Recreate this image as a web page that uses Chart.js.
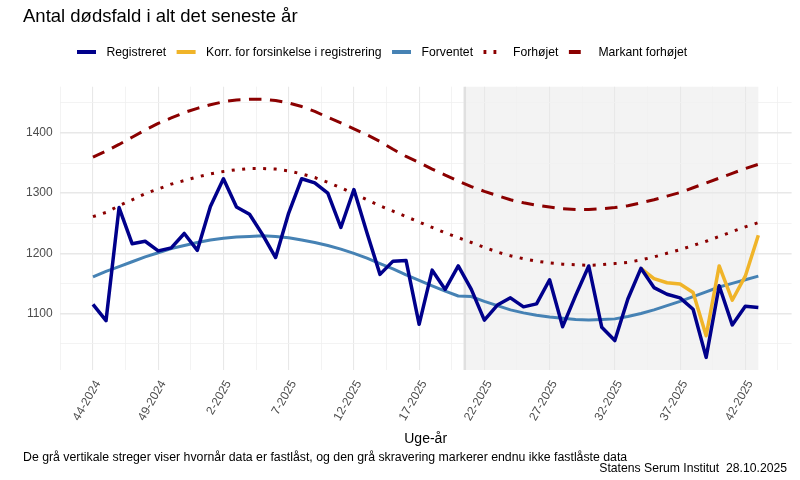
<!DOCTYPE html>
<html>
<head>
<meta charset="utf-8">
<script src="https://cdn.jsdelivr.net/npm/chart.js@4.4.1/dist/chart.umd.min.js"></script>
<style>
  html, body { margin: 0; padding: 0; background: #ffffff; }
  #wrap { width: 800px; height: 480px; position: relative; }
</style>
</head>
<body>
<div id="wrap"><canvas id="c"></canvas></div>
<script>
// ---------- DATA ----------
const weekLabels = [
  "44-2024","45-2024","46-2024","47-2024","48-2024","49-2024","50-2024","51-2024","52-2024",
  "1-2025","2-2025","3-2025","4-2025","5-2025","6-2025","7-2025","8-2025","9-2025","10-2025",
  "11-2025","12-2025","13-2025","14-2025","15-2025","16-2025","17-2025","18-2025","19-2025",
  "20-2025","21-2025","22-2025","23-2025","24-2025","25-2025","26-2025","27-2025","28-2025",
  "29-2025","30-2025","31-2025","32-2025","33-2025","34-2025","35-2025","36-2025","37-2025",
  "38-2025","39-2025","40-2025","41-2025","42-2025","43-2025"
];
const registreret = [1115,1088,1276,1216,1220,1204,1209,1233,1205,1278,1324,1277,1265,1231,1193,1267,
  1324,1317,1300,1243,1306,1234,1165,1187,1188,1082,1172,1140,1179,1140,1089,1114,1126,1111,1116,1156,
  1078,1130,1179,1077,1055,1124,1175,1143,1132,1126,1107,1027,1146,1081,1112,1110];
const korrigeret = [null,null,null,null,null,null,null,null,null,null,null,null,null,null,null,null,
  null,null,null,null,null,null,null,null,null,null,null,null,null,null,null,null,null,null,null,null,
  null,null,null,null,null,null,1175,1158,1151,1149,1135,1063,1179,1122,1162,1230];
const forventet = [1161,1170,1178,1186,1194,1201,1208,1213,1218,1222,1225,1227,1228,1229,1228,1226,
  1222,1218,1213,1207,1200,1192,1183,1174,1164,1155,1146,1137,1129,1128,1120,1113,1106,1101,1097,1094,
  1092,1090,1089,1090,1091,1095,1100,1106,1113,1120,1128,1136,1144,1150,1156,1162];
const forhoejet = [1261,1268,1279,1289,1299,1307,1315,1321,1327,1332,1336,1339,1341,1341,1340,1337,
  1332,1326,1318,1309,1299,1289,1279,1270,1261,1252,1243,1234,1226,1218,1210,1202,1196,1191,1187,1184,
  1182,1181,1180,1181,1183,1185,1189,1194,1200,1206,1213,1220,1228,1236,1244,1251];
const markant = [1360,1370,1381,1393,1405,1416,1425,1434,1441,1447,1452,1455,1456,1456,1454,1450,
  1444,1436,1426,1417,1407,1397,1386,1373,1361,1351,1340,1330,1320,1311,1303,1296,1289,1284,1280,1277,
  1274,1273,1273,1274,1276,1279,1284,1289,1295,1301,1309,1317,1325,1333,1341,1348];
const seriesNames = ["Registreret","Korr. for forsinkelse i registrering","Forventet","Forhøjet","Markant forhøjet"];
// data locked up to between week 20-2025 and 21-2025 (index 28.5); grey shade covers not-yet-locked data
const lockIndex = 28.5;
const lastIndex = registreret.length - 1;

// ---------- STYLE ----------
const FONT = "'Liberation Sans', Arial, sans-serif";
const colNavy = "#00008b", colGold = "#f0b429", colSteel = "#4682b4", colRed = "#8b0000";
const gridMajor = "#e8e8e8", gridMinor = "#f0f0f0";

const toPts = arr => arr.map((v, i) => ({x: i, y: v}));

const datasets = [
  {label: seriesNames[0], data: toPts(registreret), borderColor: colNavy, borderWidth: 3.5, order: 0},
  {label: seriesNames[1], data: toPts(korrigeret), borderColor: colGold, borderWidth: 3.5, order: 1},
  {label: seriesNames[2], data: toPts(forventet), borderColor: colSteel, borderWidth: 3, order: 2},
  {label: seriesNames[3], data: toPts(forhoejet), borderColor: colRed, borderWidth: 3, borderDash: [3, 7.5], order: 3},
  {label: seriesNames[4], data: toPts(markant), borderColor: colRed, borderWidth: 3, borderDash: [12.5, 8.5], order: 4}
].map(d => Object.assign({pointRadius: 0, tension: 0, fill: false, spanGaps: false, borderJoinStyle: 'round'}, d));

const decorPlugin = {
  id: 'decor',
  beforeDraw(chart) {
    const {ctx, chartArea, scales} = chart;
    const x0 = scales.x.getPixelForValue(lockIndex);
    const x1 = scales.x.getPixelForValue(lastIndex);
    ctx.save();
    ctx.fillStyle = "#f3f3f3";
    ctx.fillRect(x0, chartArea.top, x1 - x0, chartArea.bottom - chartArea.top);
    ctx.restore();
  },
  beforeDatasetsDraw(chart) {
    const {ctx, chartArea, scales} = chart;
    const x0 = scales.x.getPixelForValue(lockIndex);
    ctx.save();
    ctx.strokeStyle = "#e0e0e0";
    ctx.lineWidth = 2.5;
    ctx.beginPath();
    ctx.moveTo(x0, chartArea.top);
    ctx.lineTo(x0, chartArea.bottom);
    ctx.stroke();
    ctx.restore();
  },
  afterDraw(chart) {
    const {ctx, chartArea} = chart;
    ctx.save();
    // title
    ctx.fillStyle = "#000";
    ctx.textBaseline = "alphabetic";
    ctx.textAlign = "left";
    ctx.font = "18.5px " + FONT;
    ctx.fillText("Antal dødsfald i alt det seneste år", 23, 21.5);
    // legend
    ctx.font = "12.2px " + FONT;
    ctx.textBaseline = "middle";
    let lx = 77;
    const ly = 52;
    chart.data.datasets.forEach(ds => {
      ctx.save();
      ctx.strokeStyle = ds.borderColor;
      ctx.lineWidth = 4;
      ctx.setLineDash(ds.borderDash ? ds.borderDash.map(v => v * 0.95) : []);
      ctx.beginPath();
      ctx.moveTo(lx, ly);
      ctx.lineTo(lx + 19, ly);
      ctx.stroke();
      ctx.restore();
      lx += 19 + 10.5;
      ctx.fillStyle = "#000";
      ctx.fillText(ds.label, lx, ly + 0.5);
      lx += ctx.measureText(ds.label).width + 10.5;
    });
    // axis title
    ctx.textAlign = "center";
    ctx.textBaseline = "middle";
    ctx.font = "14px " + FONT;
    ctx.fillText("Uge-år", (chartArea.left + chartArea.right) / 2, 439);
    // caption
    ctx.font = "12.3px " + FONT;
    ctx.textAlign = "left";
    ctx.fillText("De grå vertikale streger viser hvornår data er fastlåst, og den grå skravering markerer endnu ikke fastlåste data", 23, 458);
    ctx.font = "12.2px " + FONT;
    ctx.textAlign = "right";
    ctx.fillText("Statens Serum Institut  28.10.2025", 787, 469);
    ctx.restore();
  }
};

new Chart(document.getElementById('c'), {
  type: 'line',
  data: {datasets},
  options: {
    responsive: true,
    maintainAspectRatio: false,
    animation: false,
    devicePixelRatio: 1,
    layout: {padding: {top: 86.7, right: 8.4, bottom: 0, left: 0}},
    plugins: {legend: {display: false}, title: {display: false}, tooltip: {enabled: false}},
    scales: {
      x: {
        type: 'linear',
        min: -2.55,
        max: 53.55,
        afterFit(scale) { scale.height = 110; },
        border: {display: false},
        grid: {
          drawTicks: false,
          color: c => (Math.abs(c.tick.value % 5) < 1e-6 ? gridMajor : gridMinor),
          lineWidth: c => (Math.abs(c.tick.value % 5) < 1e-6 ? 1.1 : 0.8)
        },
        ticks: {
          stepSize: 2.5,
          includeBounds: false,
          autoSkip: false,
          maxTicksLimit: 100,
          minRotation: 60,
          maxRotation: 60,
          padding: 8,
          labelOffset: 5,
          color: "#4d4d4d",
          font: {family: FONT, size: 12},
          callback: v => (Number.isInteger(v) && v % 5 === 0 && weekLabels[v]) ? weekLabels[v] : ''
        }
      },
      y: {
        type: 'linear',
        min: 1006,
        max: 1477,
        afterFit(scale) { scale.width = 59.7; },
        border: {display: false},
        grid: {
          drawTicks: false,
          color: c => (c.tick.value % 100 === 0 ? gridMajor : gridMinor),
          lineWidth: c => (c.tick.value % 100 === 0 ? 1.6 : 0.8)
        },
        ticks: {
          stepSize: 50,
          includeBounds: false,
          padding: 7,
          color: "#4d4d4d",
          font: {family: FONT, size: 12},
          callback: v => (v % 100 === 0 ? String(v) : '')
        }
      }
    }
  },
  plugins: [decorPlugin]
});
</script>
</body>
</html>
